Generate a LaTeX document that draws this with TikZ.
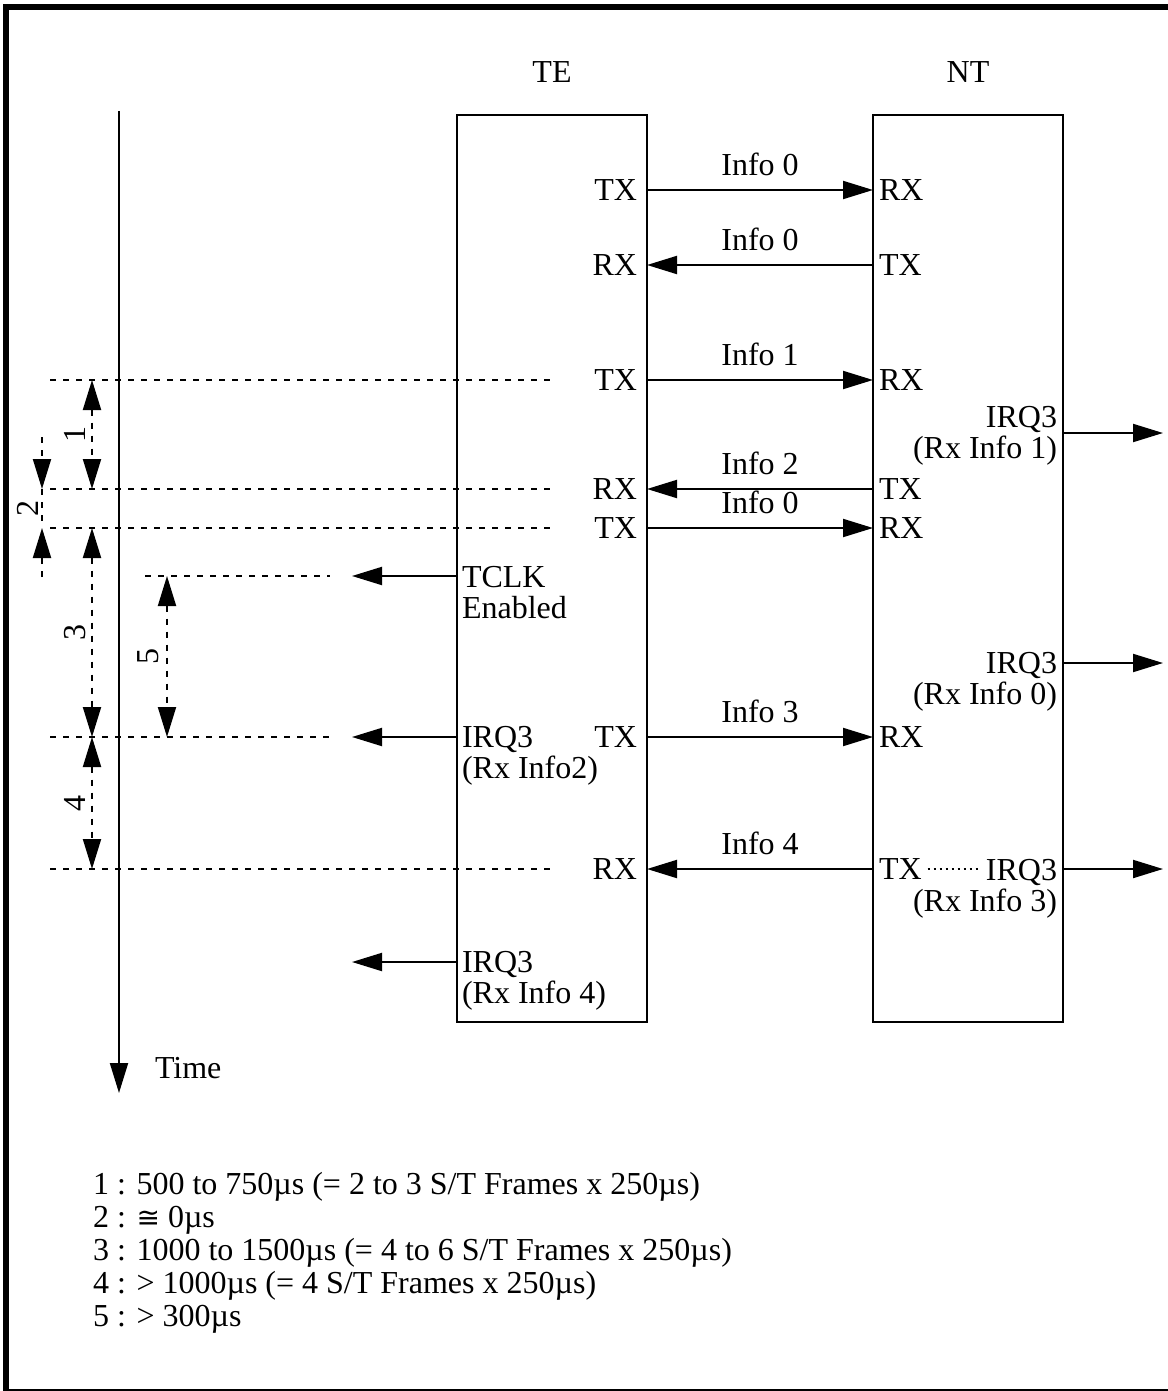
\documentclass[tikz,border=0pt]{standalone}
\usepackage{fontspec}
\setmainfont{Liberation Serif}
\newfontfamily\symfont{DejaVu Sans}
\usetikzlibrary{arrows.meta}

\begin{document}
\begin{tikzpicture}[
    x=0.5pt, y=-0.5pt,
    >={Triangle[length=15pt, width=9pt]},
    every node/.style={font=\fontsize{16}{15.5}\selectfont, inner sep=0pt, outer sep=0pt},
    unit/.style={rectangle, draw=black, line width=1pt, minimum width=95pt, minimum height=453.5pt},
    teport/.style={anchor=east, inner xsep=5pt},
    ntport/.style={anchor=west, inner xsep=3pt},
    note/.style={align=#1},
    info/.style={midway, above=7pt},
    sig/.style={->, line width=1pt},
    guide/.style={line width=1pt, dash pattern=on 3pt off 3.5pt},
    dim/.style={guide, <->},
    dimlabel/.style={midway, xshift=-#1, rotate=90}
]
\useasboundingbox (0,0) rectangle (1167,1391);
\draw[line width=3pt] (5.5,7) rectangle (1180,1392);

% Units
\node (teTitle) at (552,72) {TE};
\node (ntTitle) at (968,72) {NT};
\node[unit] (te) at (552,568.5) {};
\node[unit] (nt) at (968,568.5) {};

% Time axis
\coordinate (t0) at (119,111);
\coordinate (t1) at (119,1093);
\draw[sig] (t0) -- (t1);
\node[anchor=west] (time) at (155,1068) {Time};

% Ports
\foreach \i/\y/\a/\b in {1/190/TX/RX, 2/265/RX/TX, 3/380/TX/RX, 4/489/RX/TX,
                         5/528/TX/RX, 6/737/TX/RX, 7/869/RX/TX} {
  \node[teport] (te\i) at (te.east |- 0,\y) {\a};
  \node[ntport] (nt\i) at (nt.west |- 0,\y) {\b};
}

% Info exchanges
\draw[sig] (te1.east) -- (nt1.west) node[info] {Info 0};
\draw[sig] (nt2.west) -- (te2.east) node[info] {Info 0};
\draw[sig] (te3.east) -- (nt3.west) node[info] {Info 1};
\draw[sig] (nt4.west) -- (te4.east) node[info] {Info 2};
\draw[sig] (te5.east) -- (nt5.west) node[info] {Info 0};
\draw[sig] (te6.east) -- (nt6.west) node[info] {Info 3};
\draw[sig] (nt7.west) -- (te7.east) node[info] {Info 4};

% TE indications
\node[note=left, anchor=north west] (tclk) at (462,566) {TCLK\\Enabled};
\node[note=left, anchor=north west] (teIrqA) at (462,726) {IRQ3\\(Rx Info2)};
\node[note=left, anchor=north west] (teIrqB) at (462,951) {IRQ3\\(Rx Info 4)};
\coordinate (tclkOut) at (352,576);
\coordinate (teOutA) at (352,737);
\coordinate (teOutB) at (352,962);
\draw[sig] (te.west |- tclkOut) -- (tclkOut);
\draw[sig] (te.west |- teOutA) -- (teOutA);
\draw[sig] (te.west |- teOutB) -- (teOutB);

% NT indications
\node[note=right, anchor=north east] (ntIrqA) at (1057,406) {IRQ3\\(Rx Info 1)};
\node[note=right, anchor=north east] (ntIrqB) at (1057,652) {IRQ3\\(Rx Info 0)};
\node[note=right, anchor=north east] (ntIrqC) at (1057,859) {IRQ3\\(Rx Info 3)};
\coordinate (ntOutA) at (1163,433);
\coordinate (ntOutB) at (1163,663);
\coordinate (ntOutC) at (1163,869);
\draw[sig] (nt.east |- ntOutA) -- (ntOutA);
\draw[sig] (nt.east |- ntOutB) -- (ntOutB);
\draw[sig] (nt.east |- ntOutC) -- (ntOutC);
\coordinate (dotEnd) at (981,869);
\draw[line width=0.6pt, dash pattern=on 1pt off 2pt] (nt7.east) -- (dotEnd);

% Timing guides
\foreach \n/\xa/\xb/\y in {a/50/555/380, b/50/555/489, c/50/555/528,
                           d/145/330/576, e/50/330/737, f/50/555/869} {
  \coordinate (gl\n) at (\xa,\y);
  \coordinate (gr\n) at (\xb,\y);
  \draw[guide] (gl\n) -- (gr\n);
}

% Intervals
\foreach \n/\x/\ya/\yb/\s in {1/92/380/489/8.5pt, 3/92/528/737/8.5pt,
                              4/92/737/869/8.5pt, 5/167/576/737/9.5pt} {
  \coordinate (dim\n a) at (\x,\ya);
  \coordinate (dim\n b) at (\x,\yb);
  \draw[dim] (dim\n a) -- (dim\n b) node[dimlabel=\s] {\n};
}
\coordinate (dim2a) at (42,437);
\coordinate (dim2b) at (42,489);
\coordinate (dim2c) at (42,528);
\coordinate (dim2d) at (42,577);
\draw[guide, ->] (dim2a) -- (dim2b);
\draw[guide] (dim2b) -- (dim2c) node[dimlabel=7pt] {2};
\draw[guide, ->] (dim2d) -- (dim2c);

% Legend
\node[note=left, anchor=north west, font=\fontsize{16}{16.5}\selectfont] (legend) at (93,1172) {%
  1 : 500 to 750µs (= 2 to 3 S/T Frames x 250µs)\\
  2 : {\symfont\fontsize{14}{14}\selectfont ≅} 0µs\\
  3 : 1000 to 1500µs (= 4 to 6 S/T Frames x 250µs)\\
  4 : > 1000µs (= 4 S/T Frames x 250µs)\\
  5 : > 300µs};

\end{tikzpicture}
\end{document}
